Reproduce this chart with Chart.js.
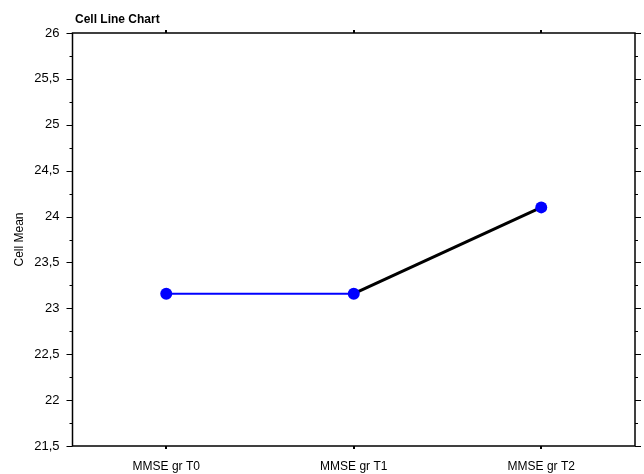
<!DOCTYPE html>
<html>
<head>
<meta charset="utf-8">
<script src="https://cdn.jsdelivr.net/npm/chart.js@4"></script>
<style>
  html, body { margin: 0; padding: 0; background: #fff; }
  #chart { display: block; }
</style>
</head>
<body>
<canvas id="chart" width="644" height="474"></canvas>
<script>
// data
const categories = ['MMSE gr T0', 'MMSE gr T1', 'MMSE gr T2']
const cellMeans = [23.16, 23.16, 24.1]
const yMin = 21.5
const yMax = 26
const yStep = 0.5

const FONT = 'Liberation Sans, Arial, sans-serif'

function fmt(v) {
    return v.toString().replace('.', ',')
}

// frame + inner/outer ticks like the original plot
const framePlugin = {
    id: 'frame',
    afterDraw(chart) {
        const ctx = chart.ctx
        const a = chart.chartArea
        const y = chart.scales.y
        const x = chart.scales.x
        ctx.save()
        ctx.strokeStyle = '#000'
        ctx.lineWidth = 1.5
        ctx.strokeRect(a.left, a.top, a.right - a.left, a.bottom - a.top)

        // y ticks left and right
        ctx.lineWidth = 1
        for (let v = yMin; v <= yMax + 1e-9; v += yStep / 2) {
            const py = Math.round(y.getPixelForValue(v)) + 0.5
            const major = Math.abs(v / yStep - Math.round(v / yStep)) < 1e-6
            const len = major ? 6 : 3
            ctx.beginPath()
            ctx.moveTo(a.left - len, py)
            ctx.lineTo(a.left, py)
            ctx.moveTo(a.right, py)
            ctx.lineTo(a.right + len, py)
            ctx.stroke()
        }
        // x ticks top and bottom
        ctx.lineWidth = 2
        categories.forEach((c, i) => {
            const px = Math.round(x.getPixelForValue(i))
            ctx.beginPath()
            ctx.moveTo(px, a.top - 3)
            ctx.lineTo(px, a.top)
            ctx.moveTo(px, a.bottom)
            ctx.lineTo(px, a.bottom + 3)
            ctx.stroke()
        })

        // title
        ctx.fillStyle = '#000'
        ctx.font = 'bold 12px ' + FONT
        ctx.textAlign = 'left'
        ctx.textBaseline = 'alphabetic'
        ctx.fillText('Cell Line Chart', 75, 23)
        ctx.restore()
    }
}

new Chart(document.getElementById('chart'), {
    type: 'line',
    data: {
        labels: categories,
        datasets: [{
            label: 'Cell Mean',
            data: cellMeans,
            borderWidth: 2.5,
            borderColor: '#000',
            segment: {
                borderColor: ctx => ctx.p0DataIndex === 0 ? '#0000ff' : '#000000',
                borderWidth: ctx => ctx.p0DataIndex === 0 ? 2 : 3
            },
            pointRadius: 6,
            pointHoverRadius: 6,
            pointBackgroundColor: '#0000ff',
            pointBorderColor: '#0000ff',
            pointBorderWidth: 0,
            tension: 0
        }]
    },
    options: {
        responsive: false,
        animation: false,
        layout: { padding: { top: 33, right: 9, left: 0, bottom: 0 } },
        plugins: {
            legend: { display: false },
            tooltip: { enabled: false }
        },
        scales: {
            x: {
                offset: true,
                grid: { display: false, drawTicks: false },
                border: { display: false },
                ticks: { color: '#000', font: { family: FONT, size: 12 }, padding: 13, maxRotation: 0 },
                afterFit: s => { s.height = 28 }
            },
            y: {
                min: yMin,
                max: yMax,
                grid: { display: false, drawTicks: false },
                border: { display: false },
                ticks: {
                    stepSize: yStep,
                    color: '#000',
                    font: { family: FONT, size: 13 },
                    padding: 13,
                    callback: v => fmt(v)
                },
                title: {
                    display: true,
                    text: 'Cell Mean',
                    color: '#000',
                    font: { family: FONT, size: 12 },
                    padding: { top: 12, bottom: 0 }
                },
                afterFit: s => { s.width = 72.5 }
            }
        }
    },
    plugins: [framePlugin]
})
</script>
</body>
</html>
